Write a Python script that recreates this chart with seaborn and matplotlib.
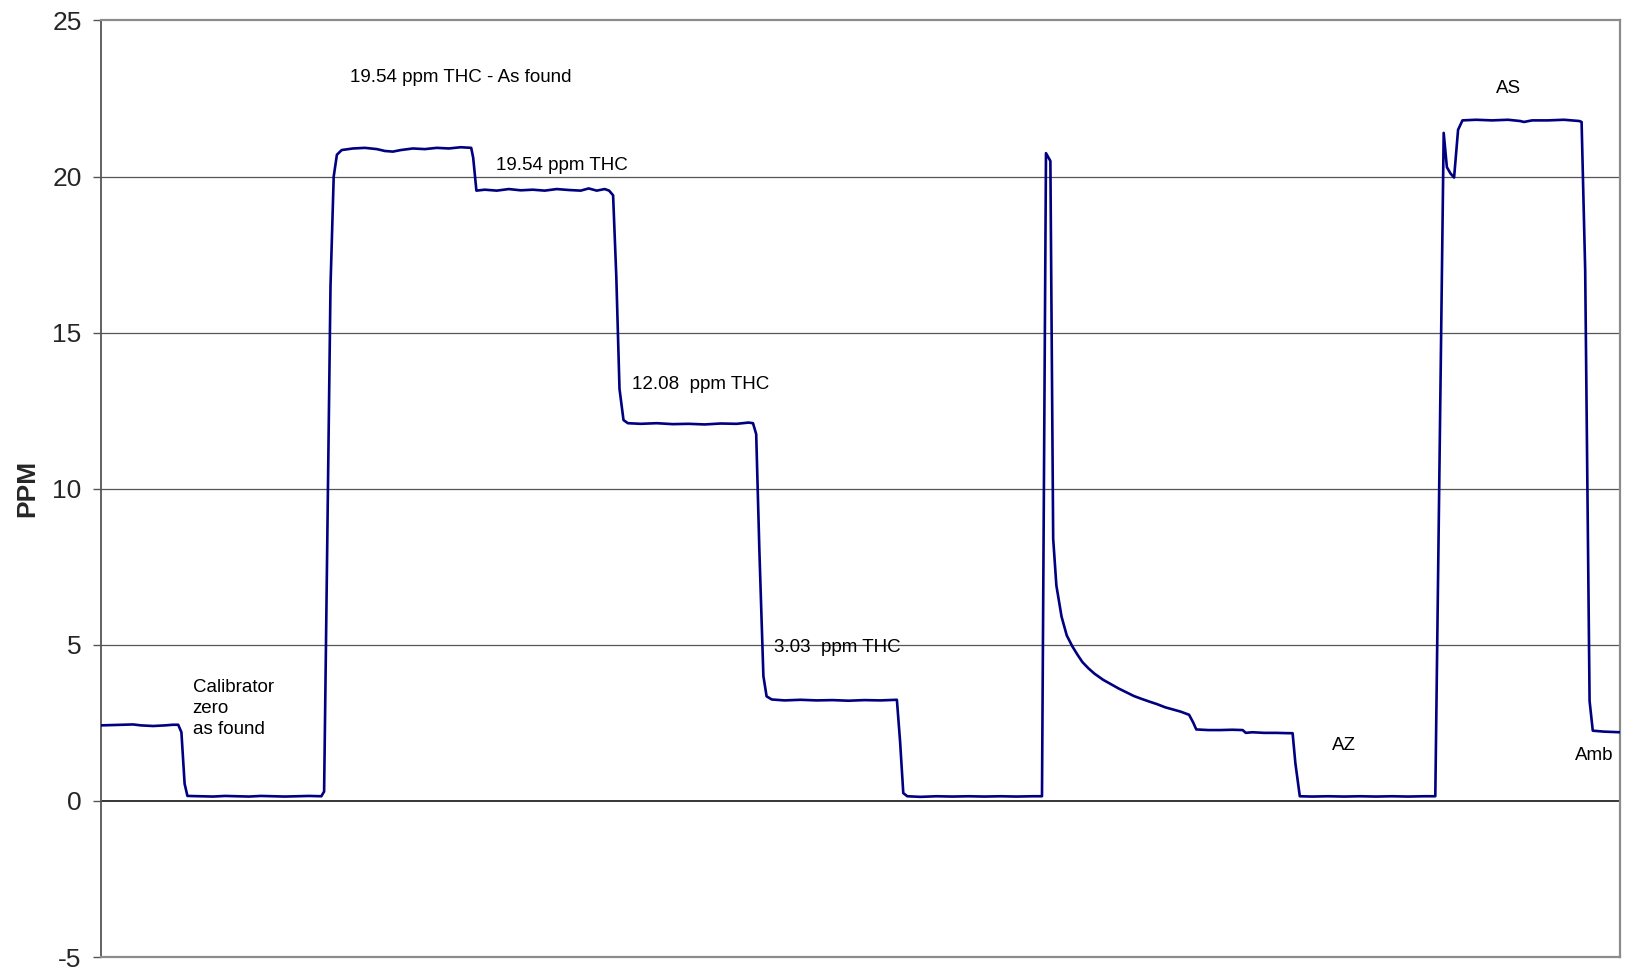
import numpy as np
import pandas as pd
import matplotlib
matplotlib.use("Agg")
import matplotlib.pyplot as plt
import seaborn as sns

# sample index (x) and analyser reading in ppm (y)
sample = [0, 3, 6, 8, 10, 13, 16, 18, 19.3, 20.1, 20.9, 21.6,
          25, 28, 31, 34, 37, 40, 43, 46, 49, 52, 55.1, 55.8,
          57.4, 58.2, 59.0, 60.2,
          63, 66, 69, 71, 73, 75, 78, 81, 84, 87, 90, 92.6, 93.1, 93.9,
          96, 99, 102, 105, 108, 111, 114, 117, 120, 122, 124, 126, 127.1,
          128.1, 128.9, 129.7, 130.7, 131.8,
          135, 139, 143, 147, 151, 155, 159, 162, 163.1, 163.9, 164.7, 165.7,
          166.5, 167.8,
          171, 175, 179, 183, 187, 191, 195, 199.1, 199.9, 200.7, 201.7,
          205, 209, 213, 217, 221, 225, 229, 233, 235.4,
          236.4, 237.5, 238.2, 239.0,
          240.3, 241.6, 243.0, 244.3, 245.5, 247.0, 248.5, 250.7, 252.5, 254.6,
          256.5, 258.4, 260.3, 262.3, 264.2, 266.2, 268.2, 270.1, 272.2, 273.2, 274.0,
          277, 280, 283, 285.6, 286.4, 288, 291, 294, 297, 298.1, 298.8, 299.9,
          303, 307, 311, 315, 319, 323, 327, 331, 333.8,
          335.9, 336.7, 337.6, 338.5, 339.5, 340.6,
          344, 348, 352, 355, 356, 358, 362, 366, 369.8, 370.4, 371.3, 372.4,
          373.2, 376, 380]
ppm = [2.42, 2.43, 2.44, 2.45, 2.42, 2.40, 2.42, 2.44, 2.44, 2.2, 0.55, 0.16,
       0.15, 0.14, 0.16, 0.15, 0.14, 0.16, 0.15, 0.14, 0.15, 0.16, 0.15, 0.3,
       16.5, 20.0, 20.7, 20.85,
       20.9, 20.92, 20.88, 20.82, 20.8, 20.85, 20.9, 20.88, 20.92, 20.9, 20.94, 20.92, 20.6, 19.55,
       19.58, 19.55, 19.6, 19.56, 19.58, 19.55, 19.6, 19.57, 19.55, 19.62, 19.55, 19.6, 19.55,
       19.4, 16.8, 13.2, 12.2, 12.1,
       12.08, 12.1, 12.07, 12.08, 12.06, 12.09, 12.08, 12.12, 12.1, 11.75, 8.0, 4.0,
       3.35, 3.25,
       3.22, 3.24, 3.22, 3.23, 3.21, 3.23, 3.22, 3.24, 1.9, 0.25, 0.15,
       0.13, 0.15, 0.14, 0.15, 0.14, 0.15, 0.14, 0.15, 0.15,
       20.75, 20.5, 8.4, 6.9,
       5.9, 5.3, 4.95, 4.68, 4.45, 4.25, 4.08, 3.88, 3.75, 3.6,
       3.48, 3.36, 3.27, 3.18, 3.1, 3.0, 2.93, 2.86, 2.76, 2.52, 2.29,
       2.27, 2.27, 2.28, 2.27, 2.18, 2.2, 2.18, 2.18, 2.17, 2.17, 1.2, 0.15,
       0.14, 0.15, 0.14, 0.15, 0.14, 0.15, 0.14, 0.15, 0.15,
       21.4, 20.3, 20.1, 19.97, 21.5, 21.8,
       21.82, 21.8, 21.82, 21.78, 21.75, 21.8, 21.8, 21.82, 21.78, 21.75, 17.0, 3.2,
       2.25, 2.22, 2.2]

# annotations: text, x (sample), y (ppm)
notes = ["19.54 ppm THC - As found", "19.54 ppm THC", "12.08  ppm THC",
         "3.03  ppm THC", "Calibrator\nzero\nas found", "AZ", "AS", "Amb"]
note_x = [62.3, 98.8, 132.8, 168.3, 22.9, 307.9, 348.9, 368.8]
note_y = [23.18, 20.36, 13.35, 4.91, 2.95, 1.76, 22.82, 1.46]

df = pd.DataFrame({"sample": sample, "ppm": ppm})

sns.set_theme(style="white")
plt.rcParams["font.family"] = ["Liberation Sans", "DejaVu Sans"]

fig = plt.figure(figsize=(16.25, 9.71), dpi=100)
ax = fig.add_axes([0.0622, 0.0144, 0.9347, 0.9645])

for v in [5, 10, 15, 20]:
    ax.axhline(v, color="#555555", lw=0.9, zorder=1)
ax.axhline(0, color="black", lw=1.1, zorder=1)

sns.lineplot(data=df, x="sample", y="ppm", ax=ax, color="#000080",
             linewidth=1.9, zorder=3, estimator=None, sort=False)

for t, x, y in zip(notes, note_x, note_y):
    ax.text(x, y, t, fontsize=13.5, ha="left", va="center",
            color="black", linespacing=1.3)

ax.set_xlim(0, 380)
ax.set_ylim(-5, 25)
ax.set_yticks([-5, 0, 5, 10, 15, 20, 25])
ax.set_yticklabels(["-5", "0", "5", "10", "15", "20", "25"])
ax.set_xticks([])
ax.set_xlabel("")
ax.set_ylabel("PPM", fontsize=19, fontweight="bold")
ax.yaxis.set_label_coords(-0.041, 0.5)
ax.tick_params(axis="y", direction="out", length=6, width=1, color="#555555",
               labelsize=19, pad=8, left=True)

for side in ["top", "right", "bottom"]:
    ax.spines[side].set_color("#8c8c8c")
    ax.spines[side].set_linewidth(1.6)
ax.spines["left"].set_color("#555555")
ax.spines["left"].set_linewidth(1.3)

fig.savefig("out.png", dpi=100, facecolor="white")
